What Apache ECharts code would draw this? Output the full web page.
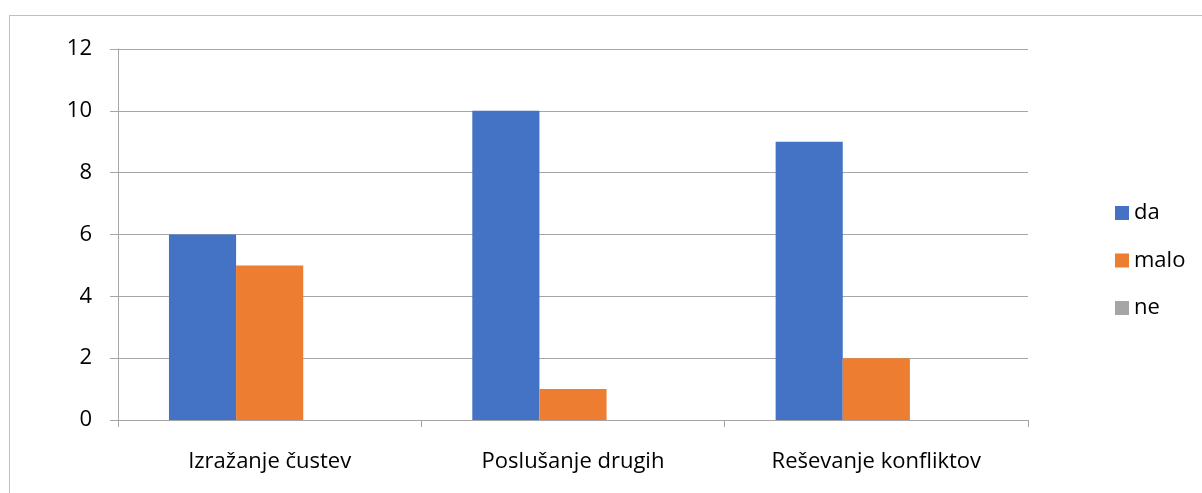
<!DOCTYPE html>
<html><head><meta charset="utf-8">
<script src="https://cdn.jsdelivr.net/npm/echarts@6/dist/echarts.min.js"></script>
<style>
html,body{margin:0;padding:0;background:#fff;}
#frame{position:absolute;left:9px;top:15px;width:1200px;height:500px;border:1px solid #bfbfbf;box-sizing:border-box;}
#c{position:absolute;left:0;top:0;width:1202px;height:493px;}
</style></head>
<body>
<div id="frame"></div>
<div id="c"></div>
<script>
const categories = ['Izražanje čustev', 'Poslušanje drugih', 'Reševanje konfliktov'];
const seriesNames = ['da', 'malo', 'ne'];
const daValues = [6, 10, 9];
const maloValues = [5, 1, 2];
const neValues = [0, 0, 0];
const yTicks = [0, 2, 4, 6, 8, 10, 12];
const colors = ['#4472C4', '#ED7D31', '#A5A5A5'];

const font = 'Open Sans';
const chart = echarts.init(document.getElementById('c'));
const values = [daValues, maloValues, neValues];
chart.setOption({
  animation: false,
  grid: {left: 118, right: 174, top: 49, bottom: 73, containLabel: false},
  legend: {
    orient: 'vertical', left: 1110, top: 197,
    itemWidth: 14, itemHeight: 14, itemGap: 25.5,
    icon: 'rect',
    textStyle: {fontFamily: font, fontSize: 22, color: '#000'},
    data: seriesNames
  },
  xAxis: {
    type: 'category', data: categories, boundaryGap: true,
    axisLine: {show: true, lineStyle: {color: '#a6a6a6', width: 1}},
    axisTick: {show: true, length: 7, lineStyle: {color: '#a6a6a6'}},
    axisLabel: {fontFamily: font, fontSize: 22, color: '#000', margin: 31}
  },
  yAxis: {
    type: 'value', min: yTicks[0], max: yTicks[yTicks.length - 1], interval: 2,
    axisLine: {show: true, lineStyle: {color: '#a6a6a6', width: 1}},
    axisTick: {show: true, length: 8, lineStyle: {color: '#a6a6a6'}},
    axisLabel: {fontFamily: font, fontSize: 22, color: '#000', margin: 26},
    splitLine: {show: true, lineStyle: {color: '#a6a6a6', width: 1}}
  },
  series: seriesNames.map((n, i) => ({
    name: n, type: 'bar', data: values[i],
    barGap: '0%', barCategoryGap: '33.6%',
    itemStyle: {color: colors[i]}
  }))
});
</script>
</body></html>
